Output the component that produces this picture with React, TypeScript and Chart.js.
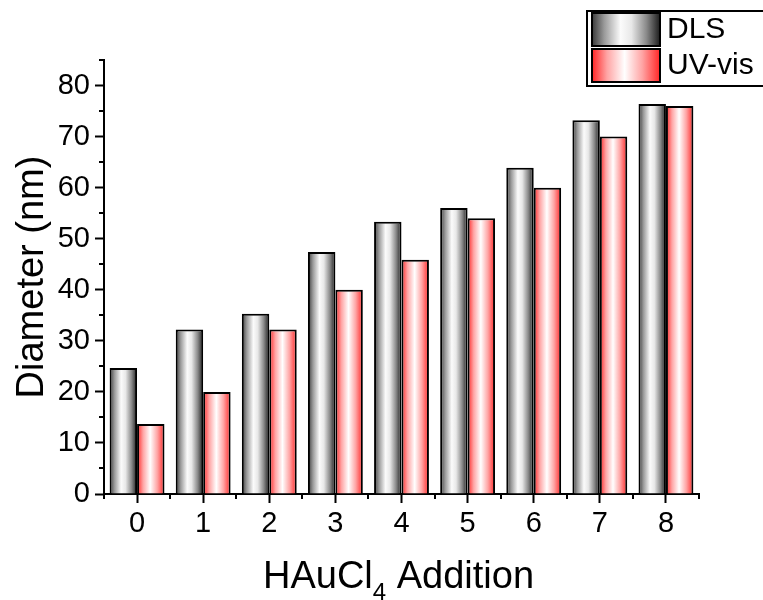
import { useEffect, useRef } from 'react';
import { Chart, registerables } from 'chart.js';

Chart.register(...registerables);

// ---- data ----
const categories = ['0', '1', '2', '3', '4', '5', '6', '7', '8'];
const dlsValues = [24.7, 32.2, 35.3, 47.4, 53.3, 56.0, 63.9, 73.2, 76.4];
const uvVisValues = [13.7, 20.0, 32.2, 40.0, 45.9, 54.0, 60.0, 70.0, 76.0];
const yTickValues = [0, 10, 20, 30, 40, 50, 60, 70, 80];
const yMinorTickValues = [5, 15, 25, 35, 45, 55, 65, 75, 85];
const seriesLabels = ['DLS', 'UV-vis'];
const yTitle = 'Diameter (nm)';
const xTitleMain = 'HAuCl';
const xTitleSub = '4';
const xTitleRest = ' Addition';

// ---- style ----
const FONT = '"Liberation Sans", Arial, Helvetica, sans-serif';
const CAT_PCT = 0.83;
type Stop = [number, string];
const DLS_STOPS: Stop[] = [
  [0, '#3a3a3a'],
  [0.18, '#9a9a9a'],
  [0.42, '#fbfbfb'],
  [0.58, '#e8e8e8'],
  [0.8, '#8a8a8a'],
  [1, '#1c1c1c'],
];
const UV_STOPS: Stop[] = [
  [0, '#ff2424'],
  [0.22, '#ffa4a4'],
  [0.48, '#ffffff'],
  [0.74, '#ffa4a4'],
  [1, '#ff2626'],
];

function makeGrad(ctx: CanvasRenderingContext2D, x0: number, x1: number, stops: Stop[]) {
  const g = ctx.createLinearGradient(x0, 0, x1, 0);
  stops.forEach(([o, c]) => g.addColorStop(o, c));
  return g;
}

const barBg = (stops: Stop[], fallback: string, side: number) => (c: any) => {
  const chart = c.chart;
  const xs = chart && chart.scales ? chart.scales.x : null;
  if (!xs || c.dataIndex === undefined || !xs.width) return fallback;
  const center = xs.getPixelForValue(c.dataIndex);
  const w = (xs.width / categories.length) * CAT_PCT / 2;
  const x0 = side === 0 ? center - w : center;
  if (!isFinite(x0) || !isFinite(w) || w <= 0) return fallback;
  return makeGrad(chart.ctx, x0, x0 + w, stops);
};

const extrasPlugin = {
  id: 'extras',
  afterDraw(chart: any) {
    const ctx: CanvasRenderingContext2D = chart.ctx;
    const xs = chart.scales.x;
    const ys = chart.scales.y;
    const area = chart.chartArea;
    ctx.save();
    // minor ticks
    ctx.strokeStyle = '#000';
    ctx.lineWidth = 2;
    ctx.beginPath();
    yMinorTickValues.forEach((v) => {
      const py = Math.round(ys.getPixelForValue(v));
      ctx.moveTo(area.left - 5, py);
      ctx.lineTo(area.left, py);
    });
    for (let i = 0; i <= categories.length; i++) {
      const px = Math.round(xs.getPixelForValue(i - 0.5));
      ctx.moveTo(px, area.bottom);
      ctx.lineTo(px, area.bottom + 5);
    }
    ctx.stroke();

    // y title
    ctx.fillStyle = '#000';
    ctx.font = `38px ${FONT}`;
    ctx.save();
    ctx.translate(43, (area.top + area.bottom) / 2);
    ctx.rotate(-Math.PI / 2);
    ctx.textAlign = 'center';
    ctx.textBaseline = 'alphabetic';
    ctx.fillText(yTitle, 0, 0);
    ctx.restore();

    // x title with subscript
    const mainFont = `38px ${FONT}`;
    const subFont = `24px ${FONT}`;
    ctx.textAlign = 'left';
    ctx.textBaseline = 'alphabetic';
    ctx.font = mainFont;
    const w1 = ctx.measureText(xTitleMain).width;
    const w3 = ctx.measureText(xTitleRest).width;
    ctx.font = subFont;
    const w2 = ctx.measureText(xTitleSub).width;
    const total = w1 + w2 + w3;
    const cx = (area.left + area.right) / 2 - 3;
    let x = cx - total / 2;
    const base = 588;
    ctx.font = mainFont;
    ctx.fillText(xTitleMain, x, base);
    x += w1;
    ctx.font = subFont;
    ctx.fillText(xTitleSub, x, base + 12);
    x += w2;
    ctx.font = mainFont;
    ctx.fillText(xTitleRest, x, base);

    // legend
    ctx.lineWidth = 2;
    ctx.strokeStyle = '#000';
    ctx.fillStyle = '#fff';
    ctx.fillRect(587, 11, 200, 75);
    ctx.strokeRect(587, 11, 200, 75);
    const rows = [
      { label: seriesLabels[0], stops: DLS_STOPS, y: 13 },
      { label: seriesLabels[1], stops: UV_STOPS, y: 49 },
    ];
    rows.forEach((r) => {
      ctx.fillStyle = makeGrad(ctx, 592, 660, r.stops);
      ctx.fillRect(592, r.y, 68, 33);
      ctx.strokeStyle = '#000';
      ctx.lineWidth = 2;
      ctx.strokeRect(592, r.y, 68, 33);
      ctx.fillStyle = '#000';
      ctx.font = `30px ${FONT}`;
      ctx.textAlign = 'left';
      ctx.textBaseline = 'middle';
      ctx.fillText(r.label, 667, r.y + 17);
    });
    ctx.restore();
  },
};

export default function App() {
  const canvasRef = useRef<HTMLCanvasElement | null>(null);

  useEffect(() => {
    document.body.style.margin = '0';
    const canvas = canvasRef.current;
    if (!canvas) return;
    Chart.defaults.font.family = FONT;
    const chart = new Chart(canvas, {
      type: 'bar',
      data: {
        labels: categories,
        datasets: [
          {
            label: seriesLabels[0],
            data: dlsValues,
            backgroundColor: barBg(DLS_STOPS, '#cccccc', 0) as any,
            borderColor: '#000',
            borderWidth: 2,
            categoryPercentage: CAT_PCT,
            barPercentage: 1.0,
          },
          {
            label: seriesLabels[1],
            data: uvVisValues,
            backgroundColor: barBg(UV_STOPS, '#ff9999', 1) as any,
            borderColor: '#000',
            borderWidth: 2,
            categoryPercentage: CAT_PCT,
            barPercentage: 1.0,
          },
        ],
      },
      options: {
        animation: false,
        responsive: true,
        maintainAspectRatio: false,
        layout: { padding: { top: 60, right: 64, left: 0, bottom: 0 } },
        plugins: {
          legend: { display: false },
          tooltip: { enabled: false },
          title: { display: false },
        },
        scales: {
          x: {
            type: 'category',
            offset: true,
            grid: {
              offset: false,
              drawOnChartArea: false,
              drawTicks: true,
              tickLength: 9,
              tickWidth: 2,
              tickColor: '#000',
            },
            border: { display: true, color: '#000', width: 2 },
            ticks: {
              color: '#000',
              font: { size: 29, family: FONT },
              padding: 4,
              maxRotation: 0,
              autoSkip: false,
            },
            afterFit: (scale: any) => {
              scale.height = 106;
            },
          },
          y: {
            type: 'linear',
            min: 0,
            max: 85,
            grid: {
              drawOnChartArea: false,
              drawTicks: true,
              tickLength: 9,
              tickWidth: 2,
              tickColor: '#000',
            },
            border: { display: true, color: '#000', width: 2 },
            ticks: {
              color: '#000',
              font: { size: 29, family: FONT },
              padding: 5,
            },
            afterBuildTicks: (scale: any) => {
              scale.ticks = yTickValues.map((v) => ({ value: v }));
            },
            afterFit: (scale: any) => {
              scale.width = 104;
            },
          },
        },
      },
      plugins: [extrasPlugin],
    });
    return () => chart.destroy();
  }, []);

  return (
    <div style={{ position: 'relative', width: 763, height: 600 }}>
      <canvas ref={canvasRef} />
    </div>
  );
}
